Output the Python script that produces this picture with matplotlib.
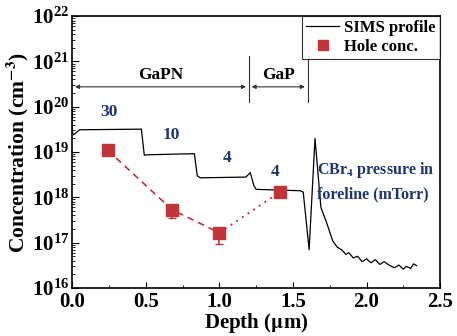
import numpy as np
import matplotlib
matplotlib.use("Agg")
import matplotlib.pyplot as plt
from matplotlib.ticker import LogLocator, NullFormatter

plt.rcParams['font.family'] = ['Liberation Serif', 'DejaVu Serif']
plt.rcParams['mathtext.fontset'] = 'stix'

# SIMS profile
sims_depth = [0.0, 0.0, 0.01, 0.05, 0.47, 0.49, 0.51, 0.83, 0.85, 0.87, 1.18, 1.21, 1.235, 1.25,
              1.55, 1.57, 1.61, 1.65, 1.69, 1.73, 1.77, 1.80, 1.83, 1.86, 1.88, 1.91, 1.94, 1.97,
              2.00, 2.03, 2.06, 2.09, 2.12, 2.16, 2.19, 2.22, 2.25, 2.27, 2.30, 2.32, 2.34]
sims_conc = [9.4e19, 2.8e19, 2.4e19, 3.1e19, 3.2e19, 8.5e18, 8.7e18, 9.2e18, 3.0e18, 2.7e18, 2.8e18,
             3.5e18, 1.8e18, 1.5e18, 1.4e18, 1.3e18, 7e16, 2e19, 6e17, 2.7e17, 1.1e17, 8e16,
             7e16, 5.5e16, 6e16, 4.6e16, 5e16, 3.8e16, 4.4e16, 3.6e16, 4.2e16, 3.3e16, 3.8e16,
             3.1e16, 2.8e16, 3.2e16, 2.6e16, 3.0e16, 2.7e16, 3.4e16, 3.1e16]

# Hole concentration
hole_depth = [0.24, 0.68, 1.0, 1.41]
hole_conc = [1.1e19, 5.3e17, 1.65e17, 1.3e18]
hole_err_lo = [2.0e18, 1.8e17, 0.7e17, 0.0]
hole_err_hi = [0.0, 0.0, 0.0, 0.0]

pressure_labels = ["30", "10", "4", "4"]
pressure_x = [0.25, 0.67, 1.05, 1.38]
pressure_y = [7.5e19, 2.4e19, 7.5e18, 3.6e18]

red = '#c0343a'
blue = '#1d3570'

fig = plt.figure(figsize=(4.57, 3.36), dpi=100)
ax = fig.add_axes([0.158, 0.143, 0.805, 0.809])

ax.plot(sims_depth, sims_conc, color='black', lw=0.9, label='SIMS profile')
ax.errorbar(hole_depth, hole_conc, yerr=[hole_err_lo, hole_err_hi], fmt='none',
            ecolor=red, elinewidth=1.2, capsize=3)
ax.plot(hole_depth[:3], hole_conc[:3], color=red, ls=(0, (4, 3)), lw=1.2)
ax.plot(hole_depth[2:], hole_conc[2:], color=red, ls=(0, (1, 2.5)), lw=1.4)
ax.plot(hole_depth, hole_conc, 's', color=red, ms=9, ls='none', label='Hole conc.')

ax.set_yscale('log')
ax.set_xlim(0, 2.5)
ax.set_ylim(1e16, 1e22)
ax.yaxis.set_major_locator(LogLocator(base=10, numticks=10))
ax.yaxis.set_minor_locator(LogLocator(base=10, subs=np.arange(2, 10), numticks=10))
ax.yaxis.set_minor_formatter(NullFormatter())
ax.set_xticks([0.0, 0.5, 1.0, 1.5, 2.0, 2.5])
ax.set_xticks([0.25, 0.75, 1.25, 1.75, 2.25], minor=True)
ax.set_xticklabels(['0.0', '0.5', '1.0', '1.5', '2.0', '2.5'])
ax.tick_params(axis='both', which='both', direction='in', top=False, right=False,
               labelsize=15)
ax.tick_params(axis='y', which='major', length=5, pad=2)
ax.tick_params(axis='x', which='major', length=4, pad=3)
ax.tick_params(which='minor', length=2.5)
for lab in ax.get_xticklabels() + ax.get_yticklabels():
    lab.set_fontweight('bold')
for s in ax.spines.values():
    s.set_linewidth(1.2)

ax.set_xlabel(r'Depth ($\mathbf{\mu}$m)', fontsize=15, fontweight='bold', labelpad=-1)
ax.set_ylabel(r'Concentration (cm$^{\mathbf{-3}}$)', fontsize=15.5, fontweight='bold', labelpad=1)

# layer annotations
arrow_y = 2.75e20
ax.annotate('', xy=(0.0, arrow_y), xytext=(1.2, arrow_y),
            arrowprops=dict(arrowstyle='<|-|>', color='#333333', lw=0.8, mutation_scale=6))
ax.annotate('', xy=(1.2, arrow_y), xytext=(1.6, arrow_y),
            arrowprops=dict(arrowstyle='<|-|>', color='#333333', lw=0.8, mutation_scale=6))
ax.plot([1.2, 1.2], [1.3e20, 1.3e21], color='#333333', lw=0.8)
ax.plot([1.6, 1.6], [1.3e20, 1.3e21], color='#333333', lw=0.8)
ax.text(0.6, 3.3e20, 'GaPN', ha='center', va='bottom', fontsize=12.5, fontweight='bold')
ax.text(1.4, 3.3e20, 'GaP', ha='center', va='bottom', fontsize=12.5, fontweight='bold')

for lab, x, y in zip(pressure_labels, pressure_x, pressure_y):
    ax.text(x, y, lab, ha='center', va='center', fontsize=12.5, fontweight='bold', color=blue)
ax.text(1.665, 2.3e18, 'CBr$_\\mathbf{4}$ pressure in\nforeline (mTorr)', ha='left', va='center',
        fontsize=11.5, fontweight='bold', color=blue, linespacing=1.5)

leg = ax.legend(loc='upper right', fontsize=12, frameon=True, fancybox=False,
                edgecolor='black', handlelength=2.0, handletextpad=0.3, borderpad=0.25,
                labelspacing=0.15, borderaxespad=0, markerscale=0.85)
leg.get_frame().set_linewidth(0.8)
for t in leg.get_texts():
    t.set_fontweight('bold')

fig.savefig('out.png', dpi=100)
